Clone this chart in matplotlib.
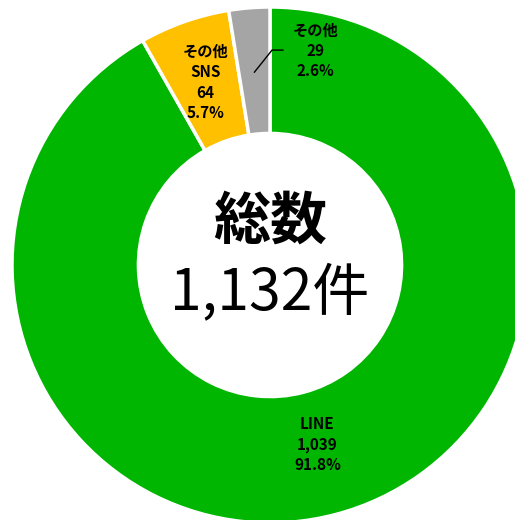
import numpy as np
import matplotlib
matplotlib.use("Agg")
from matplotlib import pyplot as plt

plt.rcParams['font.family'] = ['Noto Sans CJK JP', 'DejaVu Sans']

labels = ["LINE", "その他\nSNS", "その他"]
counts = [1039, 64, 29]
colors = ["#00B600", "#FFC000", "#A5A5A5"]
total = sum(counts)

fig = plt.figure(figsize=(5.15, 5.2), dpi=100)
ax = fig.add_axes([0, 0, 1, 1])

wedges, _ = ax.pie(counts, colors=colors, startangle=90, counterclock=False,
                   radius=1.0,
                   wedgeprops=dict(width=0.49, edgecolor="white", linewidth=2.5))

# axis limits chosen so the ring is slightly cut on the right/bottom like the original
ax.set_xlim(-270 / 258, 245 / 258)
ax.set_ylim(-255 / 258, 265 / 258)
ax.set_aspect("equal")
ax.axis("off")

def mid(w):
    return np.deg2rad((w.theta1 + w.theta2) / 2)

# LINE and SNS labels inside their wedges
for i, r in [(0, 0.72), (1, 0.75)]:
    a = mid(wedges[i])
    pct = counts[i] / total * 100
    txt = f"{labels[i]}\n{counts[i]:,}\n{pct:.1f}%"
    ax.text(r * np.cos(a), r * np.sin(a), txt, ha="center", va="center",
            fontsize=11, fontweight="bold", linespacing=1.35)

# small "その他" label outside with a leader line
a = mid(wedges[2])
p0 = (0.75 * np.cos(a), 0.75 * np.sin(a))
elbow = (0.008, 0.833)
end = (0.05, 0.833)
ax.plot([p0[0], elbow[0], end[0]], [p0[1], elbow[1], end[1]], color="black", lw=1)
pct = counts[2] / total * 100
ax.text(0.175, 0.83, f"{labels[2]}\n{counts[2]:,}\n{pct:.1f}%", ha="center", va="center",
        fontsize=11, fontweight="bold", linespacing=1.35)

# centre text
ax.text(0, 0.17, "総数", ha="center", va="center", fontsize=41, fontweight="bold")
ax.text(0, -0.11, f"{total:,}件", ha="center", va="center", fontsize=41)

fig.savefig("out.png", dpi=100)
